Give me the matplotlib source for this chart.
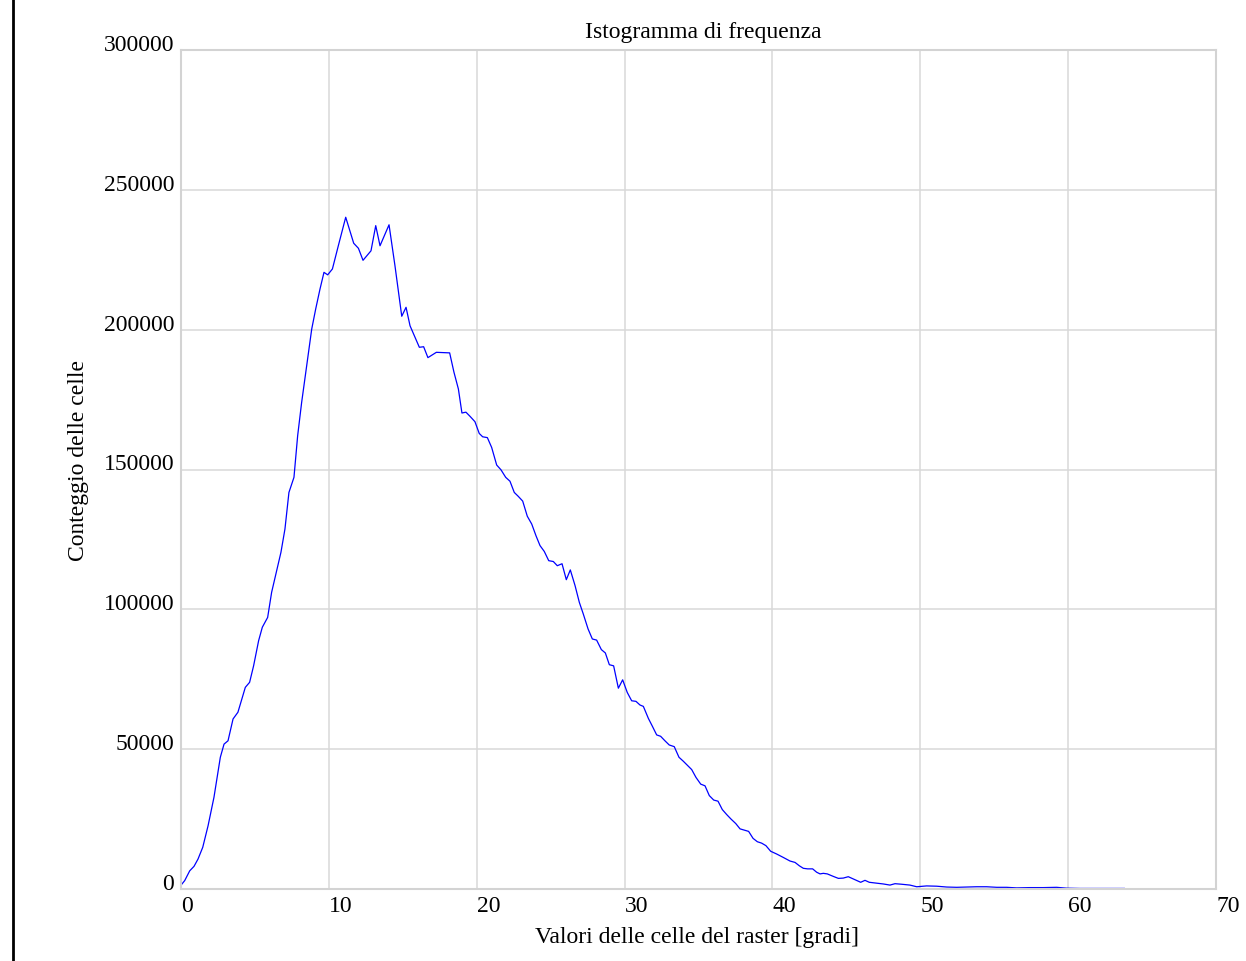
import matplotlib
matplotlib.use('Agg')
import matplotlib.pyplot as plt
from matplotlib.lines import Line2D

plt.rcParams['font.family'] = ['Liberation Serif', 'DejaVu Serif']

# valori (gradi, conteggio celle)
gradi = [
    0.02, 0.25, 0.59, 0.88, 1.15, 1.47, 1.83, 2.23, 2.50, 2.66, 2.91, 3.18, 3.52, 3.85,
    4.35, 4.64, 4.91, 5.25, 5.50, 5.86, 6.13, 6.76, 7.03, 7.30, 7.64, 7.89, 8.16, 8.50,
    8.84, 9.11, 9.40, 9.67, 9.92, 10.24, 10.64, 11.14, 11.68, 12.00, 12.31, 12.85, 13.17,
    13.46, 14.07, 14.47, 14.93, 15.22, 15.49, 16.12, 16.41, 16.70, 17.27, 18.17, 18.46,
    18.76, 19.00, 19.27, 19.55, 19.88, 20.17, 20.40, 20.72, 21.01, 21.35, 21.64, 21.96,
    22.25, 22.54, 22.81, 23.11, 23.42, 23.72, 24.01, 24.28, 24.57, 24.87, 25.18, 25.45,
    25.77, 26.06, 26.33, 26.65, 26.94, 27.21, 27.53, 27.82, 28.11, 28.43, 28.70, 28.97,
    29.26, 29.58, 29.87, 30.18, 30.48, 30.77, 31.04, 31.27, 31.61, 31.88, 32.17, 32.44,
    32.73, 33.02, 33.36, 33.68, 33.97, 34.27, 34.54, 34.83, 35.15, 35.44, 35.73, 36.03,
    36.32, 36.61, 36.91, 37.20, 37.52, 37.81, 38.12, 38.39, 38.69, 38.98, 39.27, 39.56,
    39.88, 40.29, 40.73, 41.19, 41.53, 41.82, 42.09, 42.38, 42.72, 42.99, 43.22, 43.44,
    43.71, 44.12, 44.46, 44.79, 45.13, 45.47, 45.97, 46.26, 46.55, 47.05, 47.50, 47.95,
    48.29, 48.74, 49.30, 49.76, 50.43, 51.11, 51.79, 52.46, 53.14, 53.81, 54.49, 55.17,
    55.84, 56.52, 57.42, 58.32, 59.22, 59.90, 60.80, 61.93, 63.05, 63.80,
]
conteggio = [
    1500, 3000, 6500, 8100, 10700, 14900, 22600, 32800, 41700, 47100, 51800, 53000, 60800, 63200,
    72100, 73900, 79800, 88800, 93600, 97100, 106100, 120400, 128700, 141800, 147200, 162100, 174000, 187100,
    200200, 207400, 214500, 220500, 219600, 221700, 230000, 240200, 230900, 229100, 224800, 228200, 237200,
    230000, 237500, 222900, 204800, 208000, 201400, 193700, 193900, 190000, 191900, 191700, 184800,
    178800, 170200, 170500, 169000, 167100, 162900, 161700, 161400, 157900, 151600, 149900, 147200,
    145800, 141800, 140400, 138700, 133300, 130500, 126300, 122800, 120700, 117400, 117100, 115600,
    116300, 110600, 114100, 108500, 102500, 98300, 93000, 89400, 89000, 85600, 84400, 80200,
    79800, 71800, 74800, 70300, 67300, 67100, 65800, 65300, 61000, 58200, 55100, 54600,
    53000, 51500, 50900, 47100, 45700, 44100, 42700, 39900, 37500, 36900, 33400, 31800,
    31400, 28400, 26600, 25000, 23400, 21500, 21000, 20600, 18100, 16900, 16400, 15500,
    13500, 12500, 11300, 10000, 9500, 8300, 7400, 7200, 7200, 6000, 5400, 5600,
    5400, 4500, 3800, 3900, 4400, 3600, 2400, 3100, 2400, 2100, 1800, 1400,
    1900, 1700, 1400, 800, 1100, 1000, 700, 600, 700, 800, 800, 600,
    600, 400, 500, 500, 600, 300, 200, 200, 200, 200,
]

x_ticks = [0, 10, 20, 30, 40, 50, 60, 70]
y_ticks = [0, 50000, 100000, 150000, 200000, 250000, 300000]

fig = plt.figure(figsize=(12.46, 9.62), dpi=100)
ax = fig.add_axes([181 / 1246, 72 / 962, 1035 / 1246, 839 / 962])

ax.plot(gradi, conteggio, color='#0000ff', linewidth=0.9)

ax.set_xlim(0, 70)
ax.set_ylim(0, 300000)
ax.set_xticks(x_ticks)
ax.set_yticks(y_ticks)
ax.grid(True, color='#d9d9d9', linewidth=1.1)
ax.set_axisbelow(True)
for s in ax.spines.values():
    s.set_color('#d3d3d3')
    s.set_linewidth(1.5)

ax.tick_params(length=0, labelsize=17, colors='black')
ax.tick_params(axis='x', pad=4)
ax.tick_params(axis='y', pad=5)
for lbl in ax.get_xticklabels():
    lbl.set_ha('left')
for lbl in ax.get_yticklabels():
    lbl.set_va('baseline')

ax.text(0.5045, 1.0226, 'Istogramma di frequenza', transform=ax.transAxes,
        ha='center', va='center', fontsize=17)
ax.set_xlabel('Valori delle celle del raster [gradi]', fontsize=17)
ax.xaxis.set_label_coords(0.4986, -0.057)
ax.xaxis.label.set_va('center')
ax.set_ylabel('Conteggio delle celle', fontsize=17)
ax.yaxis.set_label_coords(-0.0995, 0.5125)
ax.yaxis.label.set_va('center')

# bordo nero a sinistra
fig.add_artist(Line2D([13 / 1246, 13 / 1246], [0, 1], color='black', linewidth=2))

fig.savefig('out.png', dpi=100)
